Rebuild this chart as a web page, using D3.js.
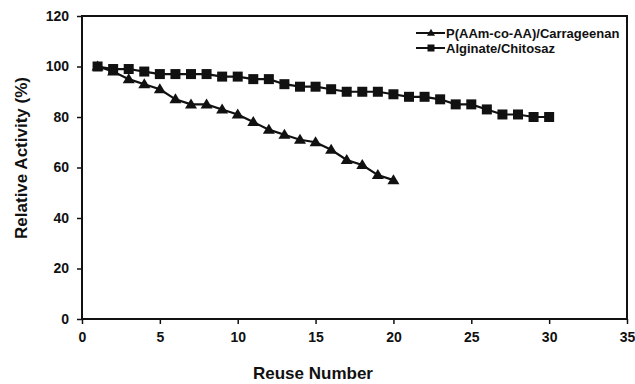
<!DOCTYPE html>
<html>
<head>
<meta charset="utf-8">
<script src="https://cdn.jsdelivr.net/npm/d3@7"></script>
<style>
  body { margin: 0; background: #fff; }
  svg { font-family: "Liberation Sans", Arial, sans-serif; font-weight: bold; }
</style>
</head>
<body>
<svg id="chart" width="635" height="384"></svg>
<script>
// reuse cycles and relative activity (%)
const reuseCarrageenan = d3.range(1, 21);
const activityCarrageenan = [100, 98, 95, 93, 91, 87, 85, 85, 83, 81, 78, 75, 73, 71, 70, 67, 63, 61, 57, 55];
const reuseChitosaz = d3.range(1, 31);
const activityChitosaz = [100, 99, 99, 98, 97, 97, 97, 97, 96, 96, 95, 95, 93, 92, 92, 91, 90, 90, 90, 89,
                          88, 88, 87, 85, 85, 83, 81, 81, 80, 80];
const seriesNames = ["P(AAm-co-AA)/Carrageenan", "Alginate/Chitosaz"];
const xTicks = [0, 5, 10, 15, 20, 25, 30, 35];
const yTicks = [0, 20, 40, 60, 80, 100, 120];

const svg = d3.select("#chart");
const plotLeft = 82, plotRight = 627, plotTop = 16, plotBottom = 319;

const x = d3.scaleLinear().domain([0, 35]).range([plotLeft, plotRight]);
const y = d3.scaleLinear().domain([0, 120]).range([plotBottom, plotTop]);

// frame
svg.append("rect")
    .attr("x", plotLeft).attr("y", plotTop)
    .attr("width", plotRight - plotLeft).attr("height", plotBottom - plotTop)
    .style("fill", "none").style("stroke", "#111").style("stroke-width", 2);

// axes
const xAxis = svg.append("g")
    .attr("transform", "translate(0," + plotBottom + ")")
    .call(d3.axisBottom(x).tickValues(xTicks).tickSize(5).tickPadding(8));
const yAxis = svg.append("g")
    .attr("transform", "translate(" + plotLeft + ",0)")
    .call(d3.axisLeft(y).tickValues(yTicks).tickSize(5).tickPadding(8));

[xAxis, yAxis].forEach(g => {
    g.select(".domain").remove();
    g.selectAll("line").style("stroke", "#111").style("stroke-width", 1.5);
    g.selectAll("text")
        .style("font-size", "14px").style("font-weight", "bold")
        .style("font-family", "'Liberation Sans', Arial, sans-serif").style("fill", "#111");
});

// axis titles
svg.append("text")
    .attr("x", 313).attr("y", 379)
    .attr("text-anchor", "middle")
    .style("font-size", "17px").style("fill", "#111")
    .text("Reuse Number");
svg.append("text")
    .attr("transform", "translate(27,158) rotate(-90)")
    .attr("text-anchor", "middle")
    .style("font-size", "17px").style("fill", "#111")
    .text("Relative Activity (%)");

const line = d3.line()
    .x(d => x(d[0]))
    .y(d => y(d[1]));

// wide triangle marker, w x h
function trianglePath(w, h) {
    return "M0," + (-h * 0.6) + "L" + (w / 2) + "," + (h * 0.4) + "L" + (-w / 2) + "," + (h * 0.4) + "Z";
}

function drawSeries(xs, ys, shape) {
    const pts = xs.map((v, i) => [v, ys[i]]);
    svg.append("path")
        .datum(pts)
        .attr("d", line)
        .style("fill", "none")
        .style("stroke", "#111")
        .style("stroke-width", 2.2);
    const marks = svg.append("g");
    if (shape === "square") {
        marks.selectAll("rect").data(pts).enter().append("rect")
            .attr("x", d => x(d[0]) - 5).attr("y", d => y(d[1]) - 5)
            .attr("width", 10).attr("height", 10)
            .style("fill", "#111");
    } else {
        marks.selectAll("path").data(pts).enter().append("path")
            .attr("d", trianglePath(12, 10))
            .attr("transform", d => "translate(" + x(d[0]) + "," + y(d[1]) + ")")
            .style("fill", "#111");
    }
}

drawSeries(reuseChitosaz, activityChitosaz, "square");
drawSeries(reuseCarrageenan, activityCarrageenan, "triangle");

// legend
const legend = svg.append("g").attr("transform", "translate(416,33)");
seriesNames.forEach((name, i) => {
    const row = legend.append("g").attr("transform", "translate(0," + (i * 15) + ")");
    row.append("line").attr("x1", 0).attr("x2", 29).attr("y1", 0).attr("y2", 0)
        .style("stroke", "#111").style("stroke-width", 2);
    if (i === 0) {
        row.append("path").attr("d", trianglePath(8, 7))
            .attr("transform", "translate(15,0)").style("fill", "#111");
    } else {
        row.append("rect").attr("x", 11.5).attr("y", -3.5).attr("width", 7).attr("height", 7)
            .style("fill", "#111");
    }
    row.append("text").attr("x", 30).attr("y", 5)
        .style("font-size", "13px").style("fill", "#111")
        .text(name);
});
</script>
</body>
</html>
